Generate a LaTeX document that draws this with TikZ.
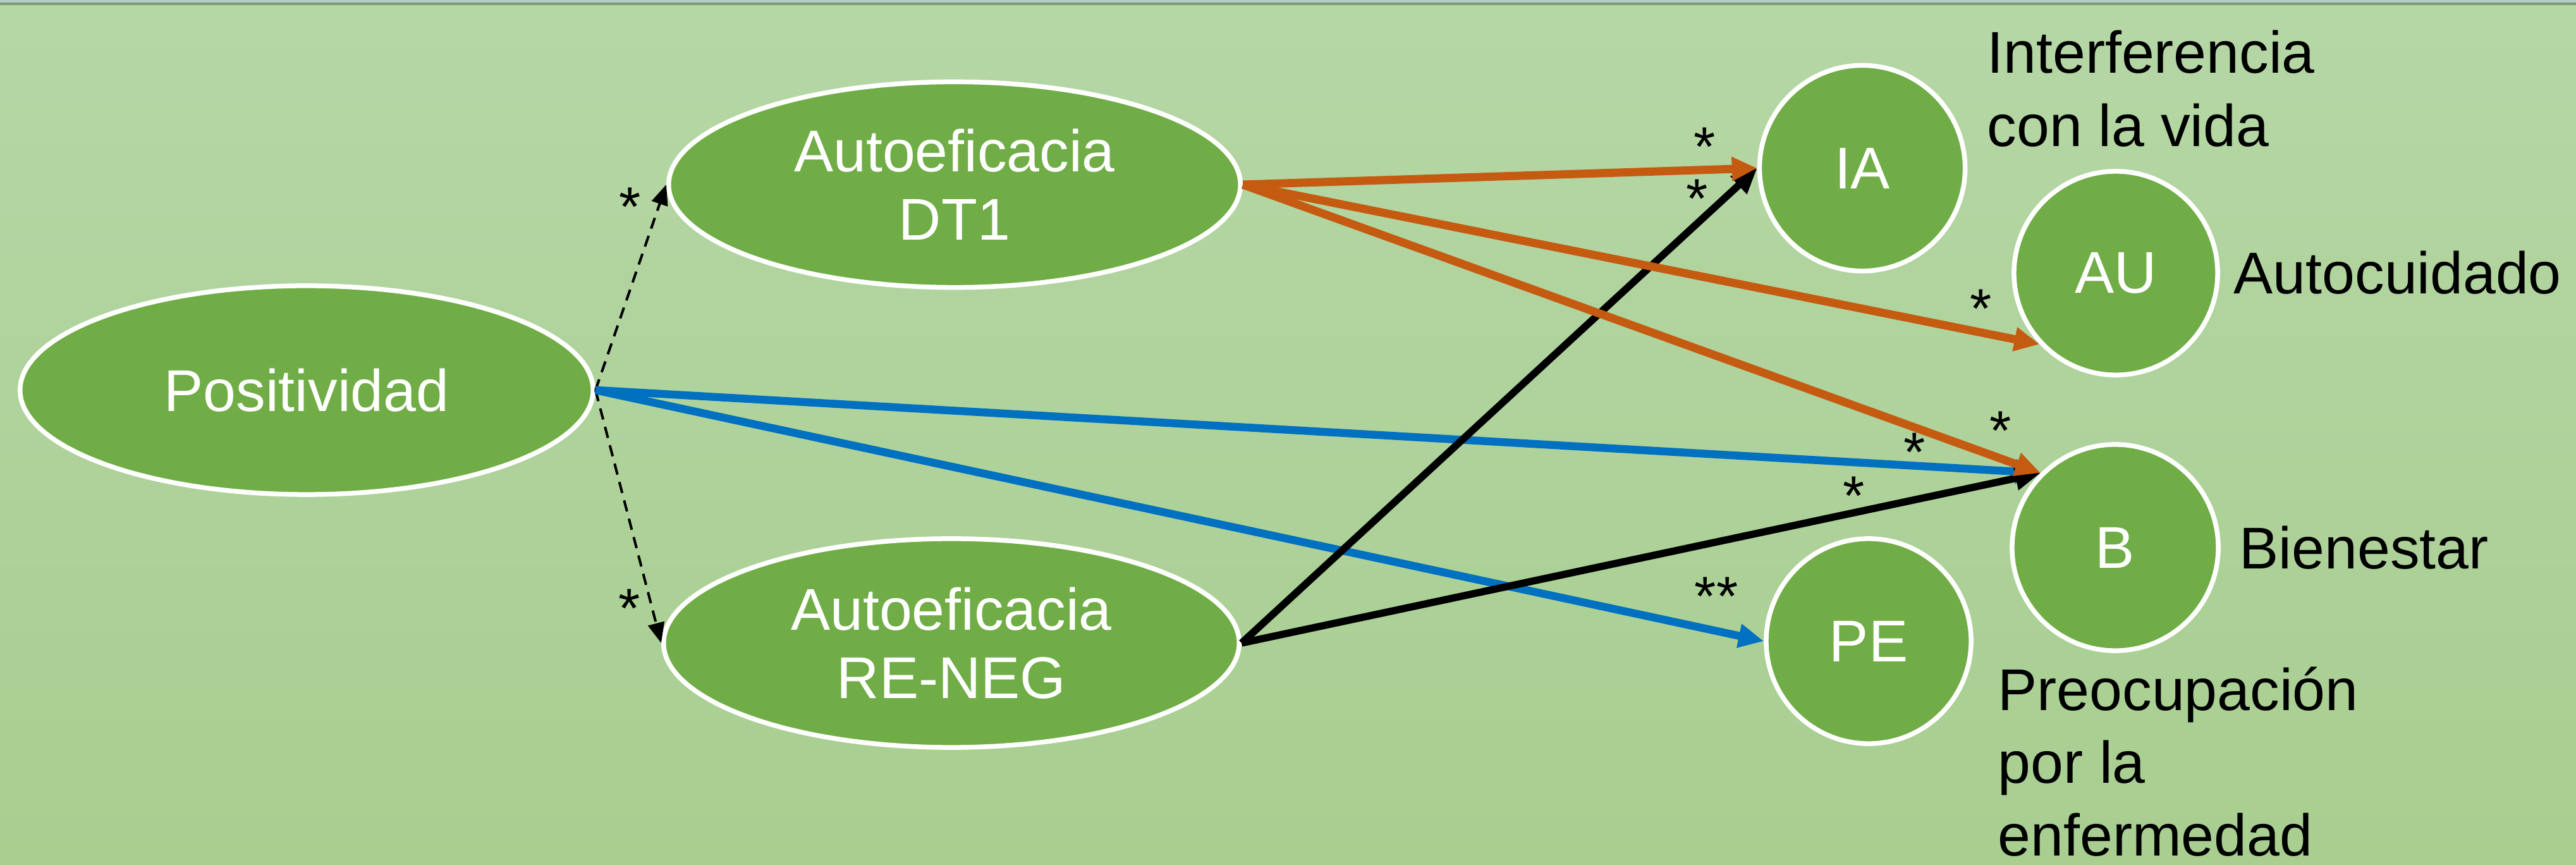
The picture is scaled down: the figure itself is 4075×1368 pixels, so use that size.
\documentclass[tikz,border=0pt]{standalone}
\usepackage{fontspec}
\setmainfont{Liberation Sans}
\usetikzlibrary{shapes.geometric,arrows.meta}
\definecolor{bgtop}{HTML}{B5D7A6}
\definecolor{bgbot}{HTML}{A8CE90}
\definecolor{nodegreen}{HTML}{70AD47}
\definecolor{orng}{HTML}{C55A11}
\definecolor{blu}{HTML}{0070C0}
\definecolor{edgeA}{HTML}{B2CCCA}
\definecolor{edgeB}{HTML}{7E9C70}
\definecolor{edgeC}{HTML}{ADD792}
\tikzset{
  txt/.style={font=\fontsize{26.5}{30.7}\selectfont},
  oval/.style={ellipse, fill=nodegreen, draw=white, line width=0.075cm, inner sep=0pt,
     text=white, align=center, txt},
  bubble/.style={circle, fill=nodegreen, draw=white, line width=0.075cm, inner sep=0pt,
     text=white, txt},
  lbl/.style={anchor=base west, inner sep=0pt, text=black, txt},
  star/.style={inner sep=0pt, text=black, font=\fontsize{25}{25}\selectfont},
  dasharrow/.style={draw=black, line width=0.04cm, dash pattern=on 0.18cm off 0.12cm,
     -{Triangle[length=0.32cm,width=0.26cm]}},
  orangearrow/.style={draw=orng, line width=0.13cm, -{Triangle[length=0.4cm,width=0.36cm]}},
  bluearrow/.style={draw=blu, line width=0.125cm, -{Triangle[length=0.4cm,width=0.36cm]}},
  blackarrow/.style={draw=black, line width=0.115cm, -{Triangle[length=0.4cm,width=0.36cm]}},
}
\begin{document}
\begin{tikzpicture}[x=0.01cm, y=-0.01cm]
\useasboundingbox (0,0) rectangle (4075,1368);
\shade[top color=bgtop, bottom color=bgbot] (0,0) rectangle (4075,1368);
\fill[edgeA] (0,0) rectangle (4075,4);
\fill[edgeB] (0,4) rectangle (4075,8);
\fill[edgeC] (0,8) rectangle (4075,10);

% nodes
\node[oval, minimum width=9.06cm, minimum height=3.3cm] (pos) at (485,617) {Positividad};
\node[oval, minimum width=9.04cm, minimum height=3.25cm] (dt1) at (1510,292) {Autoeficacia\\DT1};
\node[oval, minimum width=9.1cm, minimum height=3.3cm] (re) at (1505,1017) {Autoeficacia\\RE-NEG};
\node[bubble, minimum size=3.25cm] (ia) at (2946,266) {IA};
\node[bubble, minimum size=3.22cm] (au) at (3347,432) {AU};
\node[bubble, minimum size=3.26cm] (b) at (3346,866) {B};
\node[bubble, minimum size=3.24cm] (pe) at (2956,1014) {PE};

% labels
\node[lbl] (ia1) at (3143,116) {Interferencia};
\node[lbl] (ia2) at (3143,232) {con la vida};
\node[lbl] (aul) at (3533,465) {Autocuidado};
\node[lbl] (bl) at (3542,900) {Bienestar};
\node[lbl] (pe1) at (3160,1124) {Preocupación};
\node[lbl] (pe2) at (3160,1239) {por la};
\node[lbl] (pe3) at (3160,1354) {enfermedad};

% connectors
\draw[dasharrow] (pos.east) -- (dt1.west);
\draw[dasharrow] (pos.east) -- (re.west);
\draw[bluearrow] (pos.east) -- (b.135);
\draw[bluearrow] (pos.east) -- (pe.west);
\draw[blackarrow] (re.east) -- (ia.west);
\draw[blackarrow] (re.east) -- (b.135);
\draw[orangearrow] (dt1.east) -- (ia.west);
\draw[orangearrow] (dt1.east) -- (au.223);
\draw[orangearrow] (dt1.east) -- (b.135);

% significance marks
\node[star] (s1) at (997,327) {*};
\node[star] (s2) at (996,962) {*};
\node[star] (s3) at (2697,232) {*};
\node[star] (s4) at (2685,314) {*};
\node[star] (s5) at (3134,488) {*};
\node[star] (s6) at (3165,681) {*};
\node[star] (s7) at (3029,715) {*};
\node[star] (s8) at (2933,784) {*};
\node[star] (s9) at (2715,943) {**};
\end{tikzpicture}
\end{document}
